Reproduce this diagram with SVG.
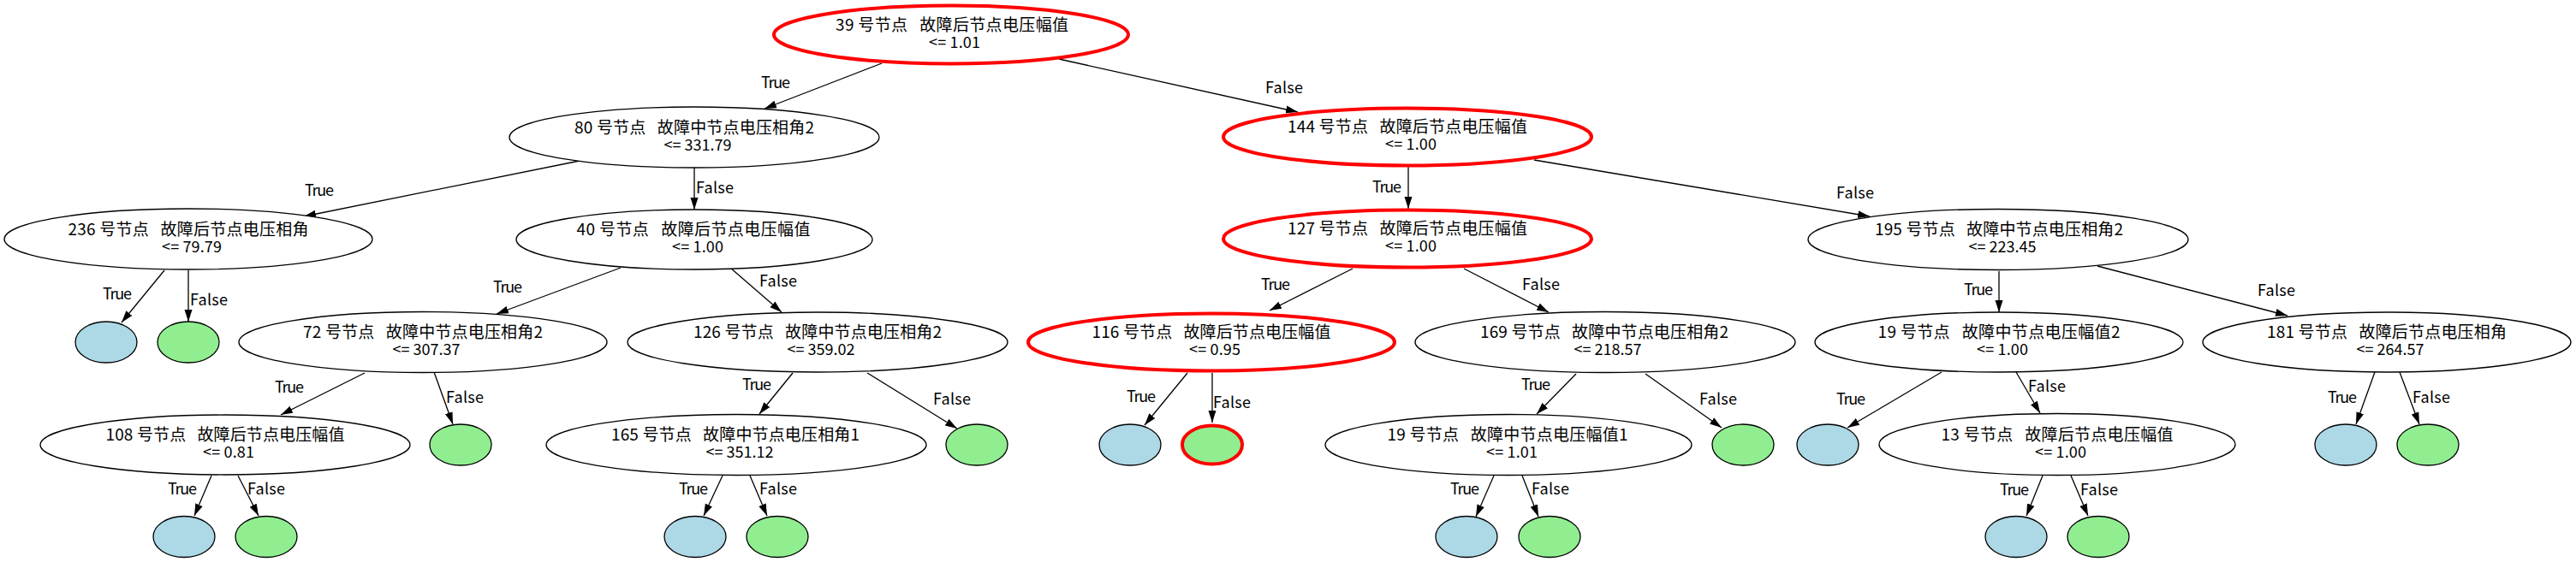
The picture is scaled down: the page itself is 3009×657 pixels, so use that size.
<svg xmlns="http://www.w3.org/2000/svg" width="3009" height="657" viewBox="0 0 3009 657">
<style>
text { font-family: "Noto Sans CJK SC", "Noto Sans", sans-serif; fill: #000; white-space: pre; }
.t1 { font-size: 19px; text-anchor: middle; }
.t2 { font-size: 18px; text-anchor: middle; }
.lb { font-size: 18px; text-anchor: middle; }
.node { fill: #fff; stroke: #000; stroke-width: 1.3; }
.red { fill: #fff; stroke: #ff0000; stroke-width: 4; }
.blue { fill: #add8e6; stroke: #000; stroke-width: 1.3; }
.green { fill: #90ee90; stroke: #000; stroke-width: 1.3; }
.greenred { fill: #90ee90; stroke: #ff0000; stroke-width: 4; }
.edge line { stroke: #000; stroke-width: 1.3; marker-end: url(#arr); }
</style>
<defs>
<marker id="arr" markerWidth="14" markerHeight="10" refX="14" refY="5" orient="auto" markerUnits="userSpaceOnUse"><path d="M0,0.5 L14,5 L0,9.5 z" fill="#000"/></marker>
</defs>
<rect width="3009" height="657" fill="#fff"/>

<g id="edges" class="edge">
<line x1="1030" y1="74" x2="893" y2="127"/>
<line x1="1237" y1="69" x2="1516" y2="131"/>
<line x1="677" y1="188" x2="355" y2="253"/>
<line x1="811" y1="196" x2="811" y2="245"/>
<line x1="1645" y1="195" x2="1645" y2="244"/>
<line x1="1792" y1="187" x2="2184" y2="253"/>
<line x1="192" y1="316" x2="142" y2="377"/>
<line x1="220" y1="316" x2="220" y2="376"/>
<line x1="725" y1="313" x2="580" y2="367"/>
<line x1="853" y1="313" x2="913" y2="365"/>
<line x1="1580" y1="314" x2="1483" y2="363"/>
<line x1="1710" y1="314" x2="1809" y2="365"/>
<line x1="2335" y1="317" x2="2335" y2="365"/>
<line x1="2450" y1="311" x2="2672" y2="369"/>
<line x1="426" y1="436" x2="328" y2="485"/>
<line x1="507" y1="435" x2="529" y2="496"/>
<line x1="926" y1="436" x2="887" y2="484"/>
<line x1="1013" y1="436" x2="1118" y2="501"/>
<line x1="1387" y1="436" x2="1337" y2="497"/>
<line x1="1416" y1="436" x2="1416" y2="494"/>
<line x1="1841" y1="437" x2="1795" y2="484"/>
<line x1="1922" y1="437" x2="2011" y2="500"/>
<line x1="2268" y1="435" x2="2158" y2="500"/>
<line x1="2355" y1="435" x2="2383" y2="483"/>
<line x1="2774" y1="435" x2="2752" y2="496"/>
<line x1="2803" y1="435" x2="2826" y2="496"/>
<line x1="247" y1="556" x2="227" y2="603"/>
<line x1="278" y1="556" x2="302" y2="603"/>
<line x1="844" y1="556" x2="822" y2="603"/>
<line x1="876" y1="556" x2="896" y2="603"/>
<line x1="1745" y1="556" x2="1724" y2="604"/>
<line x1="1778" y1="556" x2="1797" y2="604"/>
<line x1="2386" y1="556" x2="2367" y2="603"/>
<line x1="2419" y1="556" x2="2439" y2="603"/>
</g>

<g id="edge-labels">
<text class="lb" x="906" y="103" textLength="34">True</text>
<text class="lb" x="1500" y="109" textLength="44">False</text>
<text class="lb" x="373" y="229" textLength="34">True</text>
<text class="lb" x="835" y="226" textLength="44">False</text>
<text class="lb" x="1620" y="225" textLength="34">True</text>
<text class="lb" x="2167" y="232" textLength="44">False</text>
<text class="lb" x="137" y="350" textLength="34">True</text>
<text class="lb" x="244" y="357" textLength="44">False</text>
<text class="lb" x="593" y="342" textLength="34">True</text>
<text class="lb" x="909" y="335" textLength="44">False</text>
<text class="lb" x="1490" y="339" textLength="34">True</text>
<text class="lb" x="1800" y="339" textLength="44">False</text>
<text class="lb" x="2311" y="345" textLength="34">True</text>
<text class="lb" x="2659" y="346" textLength="44">False</text>
<text class="lb" x="338" y="459" textLength="34">True</text>
<text class="lb" x="543" y="471" textLength="44">False</text>
<text class="lb" x="884" y="456" textLength="34">True</text>
<text class="lb" x="1112" y="473" textLength="44">False</text>
<text class="lb" x="1333" y="470" textLength="34">True</text>
<text class="lb" x="1439" y="477" textLength="44">False</text>
<text class="lb" x="1794" y="456" textLength="34">True</text>
<text class="lb" x="2007" y="473" textLength="44">False</text>
<text class="lb" x="2162" y="473" textLength="34">True</text>
<text class="lb" x="2391" y="458" textLength="44">False</text>
<text class="lb" x="2736" y="471" textLength="34">True</text>
<text class="lb" x="2840" y="471" textLength="44">False</text>
<text class="lb" x="213" y="578" textLength="34">True</text>
<text class="lb" x="311" y="578" textLength="44">False</text>
<text class="lb" x="810" y="578" textLength="34">True</text>
<text class="lb" x="909" y="578" textLength="44">False</text>
<text class="lb" x="1711" y="578" textLength="34">True</text>
<text class="lb" x="1811" y="578" textLength="44">False</text>
<text class="lb" x="2353" y="579" textLength="34">True</text>
<text class="lb" x="2452" y="579" textLength="44">False</text>
</g>

<g id="n39">
<ellipse class="red" cx="1111" cy="40.5" rx="207" ry="34"/>
<text class="t1" x="1112" y="35.5" textLength="272">39 号节点   故障后节点电压幅值</text>
<text class="t2" x="1115" y="55.5" textLength="60">&lt;= 1.01</text>
</g>
<g id="n80">
<ellipse class="node" cx="811" cy="160.5" rx="216" ry="35.5"/>
<text class="t1" x="811" y="155.5" textLength="280">80 号节点   故障中节点电压相角2</text>
<text class="t2" x="815" y="175.5" textLength="79">&lt;= 331.79</text>
</g>
<g id="n144">
<ellipse class="red" cx="1644" cy="160" rx="215" ry="33.5"/>
<text class="t1" x="1644" y="155" textLength="280">144 号节点   故障后节点电压幅值</text>
<text class="t2" x="1648" y="175" textLength="60">&lt;= 1.00</text>
</g>
<g id="n236">
<ellipse class="node" cx="220" cy="279.5" rx="215" ry="35.5"/>
<text class="t1" x="220" y="274.5" textLength="281">236 号节点   故障后节点电压相角</text>
<text class="t2" x="224" y="294.5" textLength="70">&lt;= 79.79</text>
</g>
<g id="n40">
<ellipse class="node" cx="811" cy="280" rx="208" ry="35"/>
<text class="t1" x="810" y="275" textLength="273">40 号节点   故障后节点电压幅值</text>
<text class="t2" x="815" y="295" textLength="60">&lt;= 1.00</text>
</g>
<g id="n127">
<ellipse class="red" cx="1644" cy="279" rx="215" ry="33.5"/>
<text class="t1" x="1644" y="274" textLength="280">127 号节点   故障后节点电压幅值</text>
<text class="t2" x="1648" y="294" textLength="60">&lt;= 1.00</text>
</g>
<g id="n195">
<ellipse class="node" cx="2334" cy="280" rx="222" ry="35.5"/>
<text class="t1" x="2335" y="275" textLength="290">195 号节点   故障中节点电压相角2</text>
<text class="t2" x="2339" y="295" textLength="79">&lt;= 223.45</text>
</g>
<g id="n72">
<ellipse class="node" cx="494" cy="400" rx="215" ry="35.5"/>
<text class="t1" x="494" y="395" textLength="280">72 号节点   故障中节点电压相角2</text>
<text class="t2" x="498" y="415" textLength="79">&lt;= 307.37</text>
</g>
<g id="n126">
<ellipse class="node" cx="955" cy="400" rx="222" ry="35"/>
<text class="t1" x="955" y="395" textLength="290">126 号节点   故障中节点电压相角2</text>
<text class="t2" x="959" y="415" textLength="79">&lt;= 359.02</text>
</g>
<g id="n116">
<ellipse class="red" cx="1415" cy="400" rx="214" ry="33.5"/>
<text class="t1" x="1415" y="395" textLength="279">116 号节点   故障后节点电压幅值</text>
<text class="t2" x="1419" y="415" textLength="60">&lt;= 0.95</text>
</g>
<g id="n169">
<ellipse class="node" cx="1875" cy="400" rx="222" ry="35.5"/>
<text class="t1" x="1874" y="395" textLength="290">169 号节点   故障中节点电压相角2</text>
<text class="t2" x="1878" y="415" textLength="79">&lt;= 218.57</text>
</g>
<g id="n19b">
<ellipse class="node" cx="2335" cy="400" rx="215" ry="35"/>
<text class="t1" x="2335" y="395" textLength="283">19 号节点   故障中节点电压幅值2</text>
<text class="t2" x="2339" y="415" textLength="60">&lt;= 1.00</text>
</g>
<g id="n181">
<ellipse class="node" cx="2788" cy="400" rx="215" ry="35"/>
<text class="t1" x="2788" y="395" textLength="280">181 号节点   故障后节点电压相角</text>
<text class="t2" x="2792" y="415" textLength="79">&lt;= 264.57</text>
</g>
<g id="n108">
<ellipse class="node" cx="263" cy="520" rx="216" ry="35"/>
<text class="t1" x="263" y="515" textLength="279">108 号节点   故障后节点电压幅值</text>
<text class="t2" x="267" y="535" textLength="60">&lt;= 0.81</text>
</g>
<g id="n165">
<ellipse class="node" cx="860" cy="520" rx="222" ry="35.5"/>
<text class="t1" x="859" y="515" textLength="290">165 号节点   故障中节点电压相角1</text>
<text class="t2" x="864" y="535" textLength="79">&lt;= 351.12</text>
</g>
<g id="n19a">
<ellipse class="node" cx="1762" cy="520" rx="214" ry="35.5"/>
<text class="t1" x="1761" y="515" textLength="281">19 号节点   故障中节点电压幅值1</text>
<text class="t2" x="1766" y="535" textLength="60">&lt;= 1.01</text>
</g>
<g id="n13">
<ellipse class="node" cx="2403" cy="519.5" rx="208" ry="36"/>
<text class="t1" x="2403" y="514.5" textLength="271">13 号节点   故障后节点电压幅值</text>
<text class="t2" x="2407" y="534.5" textLength="60">&lt;= 1.00</text>
</g>

<g id="leaf236t"><ellipse class="blue" cx="124" cy="400" rx="36" ry="24"/></g>
<g id="leaf236f"><ellipse class="green" cx="220" cy="400" rx="36" ry="24"/></g>
<g id="leaf72f"><ellipse class="green" cx="538" cy="520" rx="36" ry="24"/></g>
<g id="leaf126f"><ellipse class="green" cx="1141" cy="520" rx="36" ry="24"/></g>
<g id="leaf116t"><ellipse class="blue" cx="1320" cy="520" rx="36" ry="24"/></g>
<g id="leaf116f"><ellipse class="greenred" cx="1416" cy="520" rx="35" ry="22.5"/></g>
<g id="leaf169f"><ellipse class="green" cx="2036" cy="520" rx="36" ry="24"/></g>
<g id="leaf19bt"><ellipse class="blue" cx="2135" cy="520" rx="36" ry="24"/></g>
<g id="leaf181t"><ellipse class="blue" cx="2740" cy="520" rx="36" ry="24"/></g>
<g id="leaf181f"><ellipse class="green" cx="2836" cy="520" rx="36" ry="24"/></g>
<g id="leaf108t"><ellipse class="blue" cx="215" cy="627.5" rx="36" ry="24"/></g>
<g id="leaf108f"><ellipse class="green" cx="311" cy="627.5" rx="36" ry="24"/></g>
<g id="leaf165t"><ellipse class="blue" cx="812" cy="627.5" rx="36" ry="24"/></g>
<g id="leaf165f"><ellipse class="green" cx="908" cy="627.5" rx="36" ry="24"/></g>
<g id="leaf19at"><ellipse class="blue" cx="1713" cy="627.5" rx="36" ry="24"/></g>
<g id="leaf19af"><ellipse class="green" cx="1810" cy="627.5" rx="36" ry="24"/></g>
<g id="leaf13t"><ellipse class="blue" cx="2355" cy="627.5" rx="36" ry="24"/></g>
<g id="leaf13f"><ellipse class="green" cx="2451" cy="627.5" rx="36" ry="24"/></g>
</svg>
